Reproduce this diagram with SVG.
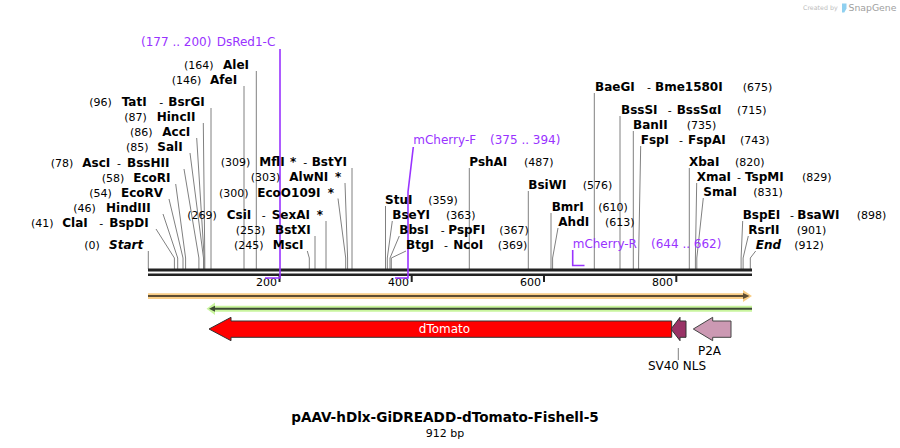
<svg xmlns="http://www.w3.org/2000/svg" width="900" height="448" viewBox="0 0 900 448">
<style>
text{font-family:"DejaVu Sans","Liberation Sans",sans-serif;fill:#000}
.n{font-size:11px}
.b{font-size:12px;font-weight:bold}
.bi{font-size:12px;font-weight:bold;font-style:italic}
.p{font-size:12px;fill:#9933ff}
.l{stroke:#808080;stroke-width:1;fill:none}
.pl{stroke:#9933ff;stroke-width:1.6;fill:none}
.bb{stroke:#222;fill:none}
.tick{fill:#222}
.fl{font-size:12px}
</style>
<rect width="900" height="448" fill="#fff"/>

<g id="logo">
<text x="803" y="10" style="font-size:6.3px;fill:#bdbdbd">Created by</text>
<path d="M842 3.5 h4.5 v5 l-2.2 4 h-2.3 z" fill="#8fd0f0"/>
<text x="848.5" y="10.5" style="font-size:9.3px;fill:#a0a0a0">SnapGene</text>
</g>

<g id="connectors">
<path class="l" d="M148.3 251V269"/>
<path class="l" d="M156 229L174.4 258V269"/>
<path class="l" d="M163 214L177.7 258V269"/>
<path class="l" d="M169 199L183 258V269"/>
<path class="l" d="M175.7 184L185.6 258V269"/>
<path class="l" d="M184 169L198.9 258V269"/>
<path class="l" d="M190 153L203.5 258V269"/>
<path class="l" d="M196.7 138L204.2 258V269"/>
<path class="l" d="M203.3 123L204.8 258V269"/>
<path class="l" d="M211 108V269"/>
<path class="l" d="M244 86V269"/>
<path class="l" d="M256.3 71V269"/>
<path class="l" d="M307.3 251L309.3 258V269"/>
<path class="l" d="M315 236V269"/>
<path class="l" d="M326 221V269"/>
<path class="l" d="M338 198.5L345.7 258V269"/>
<path class="l" d="M345 183L347.6 258V269"/>
<path class="l" d="M352 168V269"/>
<path class="l" d="M385.5 206V269"/>
<path class="l" d="M392.3 221L387.3 258V269"/>
<path class="l" d="M399.3 236L390 258V269"/>
<path class="l" d="M406 251L391.3 258V269"/>
<path class="l" d="M469.3 168V269"/>
<path class="l" d="M528.3 191V269"/>
<path class="l" d="M551 213V269"/>
<path class="l" d="M558 228L552.6 258V269"/>
<path class="l" d="M594.3 93V269"/>
<path class="l" d="M620 116V269"/>
<path class="l" d="M633.3 131V269"/>
<path class="l" d="M640.7 146L638.6 258V269"/>
<path class="l" d="M689.3 168V269"/>
<path class="l" d="M696.7 183L695.4 258V269"/>
<path class="l" d="M703.3 198L696.8 258V269"/>
<path class="l" d="M742.7 221L741.1 258V269"/>
<path class="l" d="M748.3 236L743.1 258V269"/>
<path class="l" d="M755.7 251L750.3 258V269"/>
<path class="l" d="M678.3 348V360"/>
</g>

<g id="backbone">
<line class="bb" x1="148" y1="270" x2="752" y2="270" stroke-width="3"/>
<line class="bb" x1="148" y1="274.7" x2="752" y2="274.7" stroke-width="2.5"/>
<rect class="tick" x="278.5" y="274" width="2" height="8"/>
<rect class="tick" x="410.7" y="274" width="2" height="8"/>
<rect class="tick" x="543" y="274" width="2" height="8"/>
<rect class="tick" x="675.3" y="274" width="2" height="8"/>
<text class="n" x="277" y="285.5" text-anchor="end">200</text>
<text class="n" x="409" y="285.5" text-anchor="end">400</text>
<text class="n" x="541" y="285.5" text-anchor="end">600</text>
<text class="n" x="673" y="285.5" text-anchor="end">800</text>
</g>

<g id="primers">
<path class="pl" d="M280 49V278H265"/>
<path class="pl" d="M413.3 147L408 192V278H395"/>
<path class="pl" d="M572.7 250V265.5H584.5"/>
<text class="p" x="141" y="46">(177 .. 200)</text>
<text class="p" x="216.7" y="46">DsRed1-C</text>
<text class="p" x="413.3" y="144">mCherry-F</text>
<text class="p" x="490" y="144">(375 .. 394)</text>
<text class="p" x="572.7" y="248">mCherry-R</text>
<text class="p" x="651" y="248">(644 .. 662)</text>
</g>

<g id="sites-left">
<text y="69"><tspan class="n" x="184">(164)</tspan><tspan class="b" x="223">AleI</tspan></text>
<text y="84"><tspan class="n" x="171.7">(146)</tspan><tspan class="b" x="210">AfeI</tspan></text>
<text y="106"><tspan class="n" x="89.3">(96)</tspan><tspan class="b" x="121.7">TatI</tspan><tspan class="n" x="159.3">-</tspan><tspan class="b" x="168.3">BsrGI</tspan></text>
<text y="121"><tspan class="n" x="124.3">(87)</tspan><tspan class="b" x="156.7">HincII</tspan></text>
<text y="136"><tspan class="n" x="130">(86)</tspan><tspan class="b" x="162.3">AccI</tspan></text>
<text y="151"><tspan class="n" x="126">(85)</tspan><tspan class="b" x="157.3">SalI</tspan></text>
<text y="167"><tspan class="n" x="50.7">(78)</tspan><tspan class="b" x="82.3">AscI</tspan><tspan class="n" x="117">-</tspan><tspan class="b" x="127">BssHII</tspan></text>
<text y="182"><tspan class="n" x="101.7">(58)</tspan><tspan class="b" x="133.3">EcoRI</tspan></text>
<text y="197"><tspan class="n" x="89.3">(54)</tspan><tspan class="b" x="121">EcoRV</tspan></text>
<text y="212"><tspan class="n" x="73.3">(46)</tspan><tspan class="b" x="106">HindIII</tspan></text>
<text y="227"><tspan class="n" x="31">(41)</tspan><tspan class="b" x="62.3">ClaI</tspan><tspan class="n" x="99.3">-</tspan><tspan class="b" x="109.3">BspDI</tspan></text>
<text y="249"><tspan class="n" x="84.3">(0)</tspan><tspan class="bi" x="109">Start</tspan></text>
</g>

<g id="sites-mid">
<text y="166"><tspan class="n" x="220.7">(309)</tspan><tspan class="b" x="259.3">MflI</tspan><tspan class="b" x="290">*</tspan><tspan class="n" x="303.3">-</tspan><tspan class="b" x="311.7">BstYI</tspan></text>
<text y="181"><tspan class="n" x="250.7">(303)</tspan><tspan class="b" x="289.3">AlwNI</tspan><tspan class="b" x="335">*</tspan></text>
<text y="196.5"><tspan class="n" x="219">(300)</tspan><tspan class="b" x="257.3">EcoO109I</tspan><tspan class="b" x="327.7">*</tspan></text>
<text y="219"><tspan class="n" x="187.3">(269)</tspan><tspan class="b" x="226.7">CsiI</tspan><tspan class="n" x="261.7">-</tspan><tspan class="b" x="271.7">SexAI</tspan><tspan class="b" x="316.7">*</tspan></text>
<text y="234"><tspan class="n" x="235.7">(253)</tspan><tspan class="b" x="275">BstXI</tspan></text>
<text y="249"><tspan class="n" x="234">(245)</tspan><tspan class="b" x="272.7">MscI</tspan></text>
</g>

<g id="sites-center">
<text y="204"><tspan class="b" x="385">StuI</tspan><tspan class="n" x="428.3">(359)</tspan></text>
<text y="219"><tspan class="b" x="392.3">BseYI</tspan><tspan class="n" x="446">(363)</tspan></text>
<text y="234"><tspan class="b" x="399.3">BbsI</tspan><tspan class="n" x="440.7">-</tspan><tspan class="b" x="448.3">PspFI</tspan><tspan class="n" x="499.3">(367)</tspan></text>
<text y="249"><tspan class="b" x="406">BtgI</tspan><tspan class="n" x="444">-</tspan><tspan class="b" x="453.3">NcoI</tspan><tspan class="n" x="497.7">(369)</tspan></text>
<text y="166"><tspan class="b" x="469.3">PshAI</tspan><tspan class="n" x="524">(487)</tspan></text>
<text y="189"><tspan class="b" x="528.3">BsiWI</tspan><tspan class="n" x="582.7">(576)</tspan></text>
<text y="211"><tspan class="b" x="551.7">BmrI</tspan><tspan class="n" x="598.3">(610)</tspan></text>
<text y="226"><tspan class="b" x="558.3">AhdI</tspan><tspan class="n" x="605">(613)</tspan></text>
</g>

<g id="sites-right">
<text y="90.5"><tspan class="b" x="595">BaeGI</tspan><tspan class="n" x="647">-</tspan><tspan class="b" x="655">Bme1580I</tspan><tspan class="n" x="742.7">(675)</tspan></text>
<text y="114"><tspan class="b" x="621">BssSI</tspan><tspan class="n" x="667.7">-</tspan><tspan class="b" x="676.7">BssSαI</tspan><tspan class="n" x="737">(715)</tspan></text>
<text y="129"><tspan class="b" x="633">BanII</tspan><tspan class="n" x="686.7">(735)</tspan></text>
<text y="144"><tspan class="b" x="640.7">FspI</tspan><tspan class="n" x="679">-</tspan><tspan class="b" x="688">FspAI</tspan><tspan class="n" x="740">(743)</tspan></text>
<text y="166"><tspan class="b" x="689">XbaI</tspan><tspan class="n" x="735">(820)</tspan></text>
<text y="181"><tspan class="b" x="696.7">XmaI</tspan><tspan class="n" x="737">-</tspan><tspan class="b" x="745">TspMI</tspan><tspan class="n" x="802">(829)</tspan></text>
<text y="196"><tspan class="b" x="703.3">SmaI</tspan><tspan class="n" x="753.3">(831)</tspan></text>
<text y="219"><tspan class="b" x="742.7">BspEI</tspan><tspan class="n" x="790">-</tspan><tspan class="b" x="797.3">BsaWI</tspan><tspan class="n" x="856.7">(898)</tspan></text>
<text y="234"><tspan class="b" x="748.3">RsrII</tspan><tspan class="n" x="796.7">(901)</tspan></text>
<text y="249"><tspan class="bi" x="755.7">End</tspan><tspan class="n" x="794.3">(912)</tspan></text>
</g>

<g id="feature-orange">
<path d="M148 293.3H743V290L752 296L743 302V299H148Z" fill="#f9cd86"/>
<line x1="148" y1="296" x2="744" y2="296" stroke="#5e4d33" stroke-width="2"/>
<path d="M743 293L749.5 296L743 299Z" fill="#5e4d33"/>
</g>
<g id="feature-green">
<path d="M752 305.7H215V302.5L206.5 308.7L215 315V311.7H752Z" fill="#c9f59e"/>
<line x1="752" y1="308.7" x2="214" y2="308.7" stroke="#3d4a35" stroke-width="2"/>
<path d="M215 305.7L209 308.7L215 311.7Z" fill="#3d4a35"/>
</g>

<g id="dTomato">
<path d="M209 329L231 317.3V321H671.7V337.3H231V340.7Z" fill="#ff0000" stroke="#333" stroke-width="1"/>
<text class="fl" x="444.5" y="333" text-anchor="middle" style="fill:#fff">dTomato</text>
</g>
<g id="SV40NLS">
<path d="M671 329L680 317.3V321H686V337.3H680V340.7Z" fill="#993366" stroke="#333" stroke-width="1"/>
<text class="fl" x="677" y="370" text-anchor="middle">SV40 NLS</text>
</g>
<g id="P2A">
<path d="M693.3 329L712.7 317.3V321H731V337.3H712.7V340.7Z" fill="#cc99b3" stroke="#444" stroke-width="1"/>
<text class="fl" x="709.5" y="355" text-anchor="middle">P2A</text>
</g>

<g id="title">
<text x="445" y="422" text-anchor="middle" style="font-size:13.6px;font-weight:bold">pAAV-hDlx-GiDREADD-dTomato-Fishell-5</text>
<text class="n" x="445" y="437" text-anchor="middle">912 bp</text>
</g>
</svg>
